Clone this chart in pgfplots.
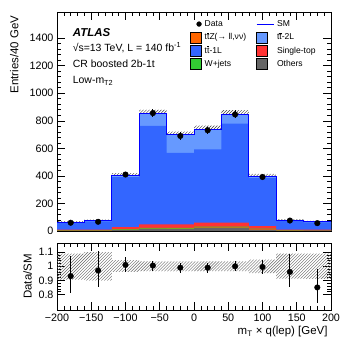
\documentclass[border=0pt]{standalone}
\usepackage{fontspec}
\setmainfont{Liberation Sans}
\usepackage{pgfplots}
\pgfplotsset{compat=1.18}
\usepgfplotslibrary{fillbetween}
\usetikzlibrary{patterns}
\definecolor{ttZcol}{HTML}{FF6600}
\definecolor{tt2Lcol}{HTML}{6699FF}
\definecolor{tt1Lcol}{HTML}{3366FF}
\definecolor{stcol}{HTML}{FF3333}
\definecolor{wjcol}{HTML}{33CC33}
\definecolor{othcol}{HTML}{666666}
% t with a bar over it, drawn with a rule so that the line height stays that of the text
\newcommand\tb{\leavevmode\rlap{\rule[0.76em]{0.27em}{0.06em}}t}
\pgfplotsset{
  atlas/.style={
    scale only axis, width=274bp,
    xmin=-200, xmax=200,
    tick align=inside, tick pos=both,
    major tick length=8bp, minor tick length=4bp,
    axis line style={line width=0.8pt}, every tick/.style={black, line width=0.6pt},
    tick label style={font=\fontsize{10.8}{12}\selectfont},
    label style={font=\fontsize{11.5}{13}\selectfont},
    /pgf/number format/assume math mode=true,
    /pgf/number format/1000 sep={},
    xtick={-200,-150,...,200}, minor x tick num=4,
  },
  box/.style={legend image code/.code={\fill[##1] (0bp,-5.5bp) rectangle (11bp,5.5bp);}},
}
\begin{document}
\begin{tikzpicture}
\begin{axis}[atlas, name=main, at={(0,0)}, anchor=south west, height=219bp,
  ymin=0, ymax=1590, ytick={0,200,...,1400}, minor y tick num=4,
  xticklabels={},
  ylabel={Entries/40 GeV},
  ylabel style={at={(rel axis cs:-0.128,1)}, anchor=south east},
  legend columns=2,
  legend style={draw=none, fill=none, at={(rel axis cs:0.475,0.98)}, anchor=north west,
    font=\fontsize{8.6}{10}\selectfont, row sep=2bp,
    nodes={inner sep=1bp, text height=7bp, text depth=2bp},
    /tikz/every odd column/.append style={column sep=2bp},
    /tikz/column 2/.style={column sep=9bp}},
  legend cell align=left,
]
\addlegendimage{only marks, mark=*, black, mark size=2.4bp}
\addlegendentry{Data}
\addlegendimage{blue, line width=0.9pt}
\addlegendentry{SM}
\addlegendimage{box, fill=ttZcol}
\addlegendentry{t\tb Z(→ ll,νν)}
\addlegendimage{box, fill=tt2Lcol}
\addlegendentry{t\tb-2L}
\addlegendimage{box, fill=tt1Lcol}
\addlegendentry{t\tb-1L}
\addlegendimage{box, fill=stcol}
\addlegendentry{Single-top}
\addlegendimage{box, fill=wjcol}
\addlegendentry{W+jets}
\addlegendimage{box, fill=othcol}
\addlegendentry{Others}

% cumulative stack, top to bottom: tt-2L, tt-1L, single-top, W+jets, ttZ, others
\addplot[const plot, fill=tt2Lcol, draw=none, forget plot] coordinates {
  (-200,65) (-160,75) (-120,404) (-80,850) (-40,698) (0,739) (40,847) (80,395) (120,79) (160,67) (200,67)} \closedcycle;
\addplot[const plot, fill=tt1Lcol, draw=none, forget plot] coordinates {
  (-200,60) (-160,69) (-120,392) (-80,763) (-40,568) (0,592) (40,780) (80,385) (120,73) (160,62) (200,62)} \closedcycle;
\addplot[const plot, fill=stcol, draw=none, forget plot] coordinates {
  (-200,10) (-160,10) (-120,28) (-80,48) (-40,48) (0,60) (40,60) (80,35) (120,10) (160,10) (200,10)} \closedcycle;
\addplot[const plot, fill=wjcol, draw=none, forget plot] coordinates {
  (-200,6) (-160,6) (-120,14) (-80,23) (-40,22) (0,32) (40,32) (80,17) (120,6) (160,7) (200,7)} \closedcycle;
\addplot[const plot, fill=ttZcol, draw=none, forget plot] coordinates {
  (-200,4) (-160,4) (-120,10) (-80,18) (-40,17) (0,26) (40,26) (80,13) (120,4) (160,6) (200,6)} \closedcycle;
\addplot[const plot, fill=othcol, draw=none, forget plot] coordinates {
  (-200,3) (-160,3) (-120,8) (-80,15) (-40,14) (0,22) (40,22) (80,10) (120,3) (160,4) (200,4)} \closedcycle;

% MC uncertainty band
\addplot[name path=mcup, const plot, draw=none, forget plot] coordinates {
  (-200,71) (-160,82) (-120,420) (-80,880) (-40,722) (0,765) (40,877) (80,415) (120,86) (160,73) (200,73)};
\addplot[name path=mclo, const plot, draw=none, forget plot] coordinates {
  (-200,59) (-160,68) (-120,388) (-80,820) (-40,674) (0,713) (40,817) (80,375) (120,72) (160,61) (200,61)};
\addplot[pattern=north east lines, pattern color=black!75, forget plot] fill between[of=mcup and mclo];

% SM total outline
\addplot[const plot, blue, line width=0.9pt, forget plot] coordinates {
  (-200,65) (-160,75) (-120,404) (-80,850) (-40,698) (0,739) (40,847) (80,395) (120,79) (160,67) (200,67)};

% data
\addplot[only marks, mark=*, black, mark size=2.8bp, forget plot,
  error bars/.cd, y dir=both, y explicit, error mark=none, error bar style={line width=1pt}] coordinates {
  (-180,60) +- (0,7.7) (-140,67) +- (0,8.2) (-100,410) +- (0,20) (-60,856) +- (0,29)
  (-20,690) +- (0,26) (20,731) +- (0,27) (60,846) +- (0,29) (100,392) +- (0,20)
  (140,76) +- (0,8.7) (180,57) +- (0,7.5)};

\node[anchor=west, font=\fontsize{11.5}{13}\selectfont\bfseries\itshape] at (rel axis cs:0.045,0.907) {ATLAS};
\node[anchor=west, font=\fontsize{10.5}{12}\selectfont] at (rel axis cs:0.045,0.838) {√s=13 TeV, L = 140 fb\textsuperscript{-1}};
\node[anchor=west, font=\fontsize{10.5}{12}\selectfont] at (rel axis cs:0.045,0.762) {CR boosted 2b-1t};
\node[anchor=west, font=\fontsize{10.5}{12}\selectfont] at (rel axis cs:0.045,0.685) {Low-m\textsubscript{T2}};
\end{axis}

\begin{axis}[atlas, at={(0,-12bp)}, anchor=north west, height=67bp,
  ymin=0.69, ymax=1.165,
  ytick={0.8,0.9,1,1.1}, yticklabels={0.8,0.9,1,1.1}, minor y tick num=4,
  xticklabels={−200,−150,−100,−50,0,50,100,150,200},
  ylabel={Data/SM},
  xlabel={m\textsubscript{T} × q(lep) [GeV]},
  xlabel style={at={(rel axis cs:1,-0.19)}, anchor=north east},
]
\addplot[name path=rup, const plot, draw=none] coordinates {
  (-200,1.09) (-160,1.1) (-120,1.043) (-80,1.035) (-40,1.035) (0,1.035) (40,1.035) (80,1.048) (120,1.09) (160,1.09) (200,1.09)};
\addplot[name path=rlo, const plot, draw=none] coordinates {
  (-200,0.905) (-160,0.9) (-120,0.96) (-80,0.965) (-40,0.965) (0,0.965) (40,0.965) (80,0.952) (120,0.912) (160,0.91) (200,0.91)};
\addplot[pattern=north east lines, pattern color=black!60] fill between[of=rup and rlo];

\addplot[only marks, mark=*, black, mark size=2.8bp,
  error bars/.cd, y dir=both, y explicit, error mark=none, error bar style={line width=1pt}] coordinates {
  (-180,0.93) += (0,0.14) -= (0,0.12)
  (-140,0.97) += (0,0.14) -= (0,0.12)
  (-100,1.01) += (0,0.055) -= (0,0.05)
  (-60,1.005) += (0,0.035) -= (0,0.035)
  (-20,0.99) += (0,0.035) -= (0,0.035)
  (20,0.99) += (0,0.035) -= (0,0.035)
  (60,1.0) += (0,0.035) -= (0,0.035)
  (100,0.995) += (0,0.05) -= (0,0.05)
  (140,0.96) += (0,0.13) -= (0,0.11)
  (180,0.85) += (0,0.13) -= (0,0.11)};
\end{axis}
\pgfresetboundingbox
\path[use as bounding box] (-57bp,-109bp) rectangle (292bp,231bp);
\end{tikzpicture}
\end{document}
